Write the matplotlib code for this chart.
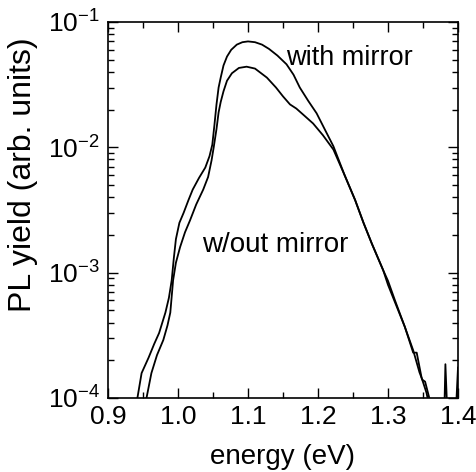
import matplotlib
matplotlib.use("Agg")
import matplotlib.pyplot as plt
from matplotlib.ticker import LogLocator, MultipleLocator, NullFormatter

plt.rcParams['font.family'] = ['Liberation Sans', 'DejaVu Sans']
plt.rcParams['mathtext.fontset'] = 'custom'
plt.rcParams['mathtext.rm'] = 'Liberation Sans'
plt.rcParams['mathtext.it'] = 'Liberation Sans'
plt.rcParams['mathtext.bf'] = 'Liberation Sans'

# PL spectrum with a back mirror (eV, arb. units)
energy_with = [0.930, 0.942, 0.948, 0.958, 0.966, 0.973, 0.982, 0.987, 0.991, 0.994,
               0.997, 1.002, 1.008, 1.015, 1.021, 1.030, 1.039, 1.045, 1.049, 1.052,
               1.055, 1.058, 1.061, 1.065, 1.070, 1.076, 1.084, 1.092, 1.100, 1.110,
               1.120, 1.130, 1.142, 1.155, 1.165, 1.174, 1.186, 1.198, 1.210, 1.222,
               1.238, 1.253, 1.265, 1.277, 1.293, 1.300, 1.310, 1.324, 1.336, 1.341,
               1.348, 1.355, 1.360, 1.370, 1.380, 1.382, 1.386, 1.392, 1.396, 1.400]
yield_with = [5.0e-5, 1.0e-4, 1.58e-4, 2.1e-4, 2.7e-4, 3.3e-4, 4.8e-4, 6.3e-4, 8.7e-4, 1.3e-3,
              1.85e-3, 2.5e-3, 3.0e-3, 3.8e-3, 4.6e-3, 5.7e-3, 6.9e-3, 8.5e-3, 1.05e-2, 1.5e-2,
              2.2e-2, 3.0e-2, 3.6e-2, 4.5e-2, 5.3e-2, 6.0e-2, 6.6e-2, 6.9e-2, 7.0e-2, 6.9e-2,
              6.6e-2, 6.1e-2, 5.4e-2, 4.6e-2, 3.8e-2, 3.0e-2, 2.35e-2, 1.87e-2, 1.38e-2, 1.02e-2,
              6.0e-3, 3.8e-3, 2.5e-3, 1.7e-3, 1.05e-3, 8.0e-4, 5.8e-4, 3.7e-4, 2.3e-4, 2.3e-4,
              1.45e-4, 1.1e-4, 8.0e-5, 5.0e-5, 6.0e-5, 1.86e-4, 5.0e-5, 4.0e-5, 6.0e-5, 1.75e-4]

# PL spectrum without the mirror
energy_without = [0.945, 0.955, 0.962, 0.970, 0.979, 0.985, 0.989, 0.993, 0.997, 1.003,
                  1.010, 1.017, 1.026, 1.036, 1.043, 1.048, 1.051, 1.055, 1.058, 1.061,
                  1.065, 1.070, 1.077, 1.087, 1.098, 1.110, 1.127, 1.140, 1.150, 1.160,
                  1.169, 1.180, 1.193, 1.207, 1.222, 1.238, 1.253, 1.265, 1.277, 1.293,
                  1.300, 1.310, 1.324, 1.336, 1.345, 1.349, 1.353, 1.359, 1.365, 1.385,
                  1.390, 1.397, 1.400]
yield_without = [5.0e-5, 1.0e-4, 1.58e-4, 2.2e-4, 2.9e-4, 3.8e-4, 4.8e-4, 8.7e-4, 1.2e-3, 1.6e-3,
                 2.1e-3, 2.6e-3, 3.5e-3, 4.6e-3, 5.8e-3, 7.9e-3, 1.0e-2, 1.4e-2, 1.9e-2, 2.3e-2,
                 2.8e-2, 3.4e-2, 3.9e-2, 4.3e-2, 4.4e-2, 4.25e-2, 3.6e-2, 3.0e-2, 2.55e-2, 2.2e-2,
                 2.04e-2, 1.8e-2, 1.55e-2, 1.25e-2, 9.6e-3, 6.0e-3, 3.8e-3, 2.5e-3, 1.7e-3, 1.05e-3,
                 8.6e-4, 6.0e-4, 3.7e-4, 2.4e-4, 1.6e-4, 1.4e-4, 1.35e-4, 1.0e-4, 6.0e-5, 5.0e-5,
                 4.0e-5, 4.0e-5, 1.2e-4]

x_ticks = [0.9, 1.0, 1.1, 1.2, 1.3, 1.4]
x_ticklabels = ["0.9", "1.0", "1.1", "1.2", "1.3", "1.4"]
y_ticks = [1e-4, 1e-3, 1e-2, 1e-1]
y_ticklabels = [r"$10^{-4}$", r"$10^{-3}$", r"$10^{-2}$", r"$10^{-1}$"]

fig = plt.figure(figsize=(4.77, 4.72), dpi=100)
ax = fig.add_axes([108 / 477, 1 - 398 / 472, 350 / 477, 376 / 472])

ax.plot(energy_with, yield_with, color='black', lw=1.3)
ax.plot(energy_without, yield_without, color='black', lw=1.3)

ax.set_yscale('log')
ax.set_xlim(0.9, 1.4)
ax.set_ylim(1e-4, 1e-1)

ax.set_xticks(x_ticks)
ax.set_xticklabels(x_ticklabels)
ax.xaxis.set_minor_locator(MultipleLocator(0.05))
ax.set_yticks(y_ticks)
ax.set_yticklabels(y_ticklabels)
ax.yaxis.set_minor_locator(LogLocator(base=10, subs=range(2, 10)))
ax.yaxis.set_minor_formatter(NullFormatter())

ax.tick_params(which='both', direction='in', top=True, right=True, labelsize=19, width=1.0)
ax.tick_params(which='major', length=7)
ax.tick_params(which='minor', length=4)
ax.tick_params(axis='x', pad=5)
ax.tick_params(axis='y', pad=6)
for s in ax.spines.values():
    s.set_linewidth(1.2)

ax.set_xlabel("energy (eV)", fontsize=20, labelpad=11)
ax.set_ylabel("PL yield (arb. units)", fontsize=23)
ax.yaxis.set_label_coords(-0.2, 0.595)

ax.text(1.155, 0.045, "with mirror", fontsize=19.5, ha='left', va='baseline')
ax.text(1.035, 1.45e-3, "w/out mirror", fontsize=20, ha='left', va='baseline')

fig.savefig("out.png", dpi=100)
